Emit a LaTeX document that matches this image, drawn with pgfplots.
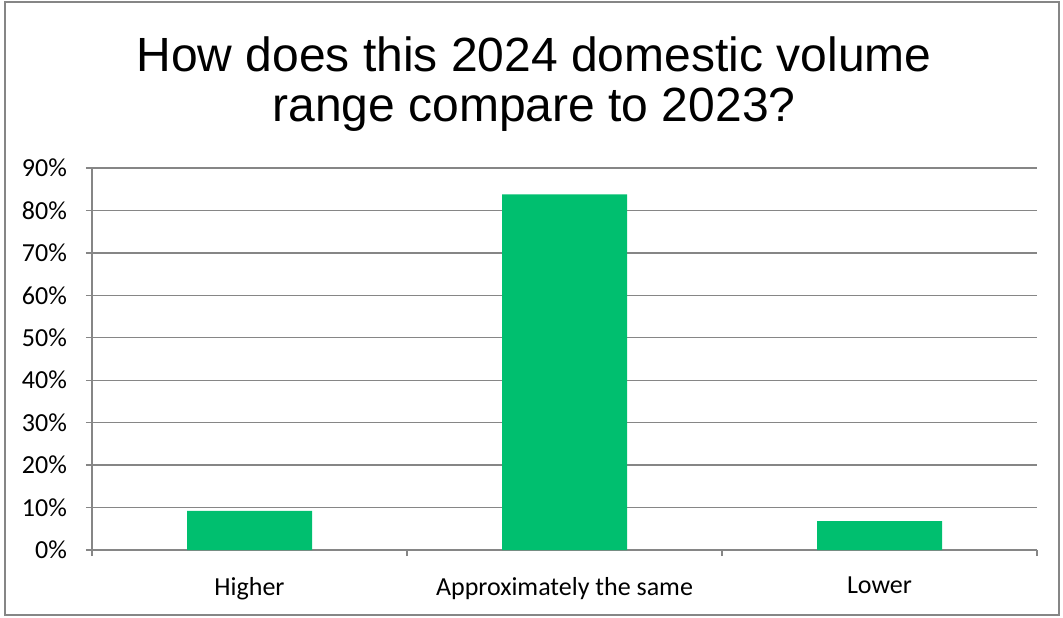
\documentclass[border=0pt]{standalone}
\usepackage{pgfplots}
\pgfplotsset{compat=1.18}
\usepackage{fontspec}
\setmainfont{Carlito}
\newfontfamily\titlefont{Liberation Sans}
\definecolor{bargreen}{RGB}{0,191,111}
\definecolor{axgray}{RGB}{134,134,134}
\begin{document}
\begin{tikzpicture}
\useasboundingbox (0,0) rectangle (531.5pt,308.5pt);
\draw[color=axgray, line width=0.6pt] (2.5pt,1pt) rectangle (529.5pt,307.5pt);
\node[align=center, font=\titlefont\fontsize{24}{25}\selectfont] at (267pt,266.5pt) {How does this 2024 domestic volume\\range compare to 2023?};
\begin{axis}[
  at={(46pt,33.5pt)}, anchor=south west,
  scale only axis,
  width=472.5pt, height=191pt,
  xmin=-0.5, xmax=2.5, ymin=0, ymax=90,
  axis x line*=bottom, axis y line*=left,
  axis line style={-, color=axgray, line width=0.65pt},
  ytick={0,10,...,90},
  yticklabel={\pgfmathprintnumber{\tick}\%},
  /pgf/number format/assume math mode=true,
  ymajorgrids, grid style={color=axgray, line width=0.65pt},
  xtick={-0.5,0.5,1.5,2.5},
  x tick label as interval=true,
  xticklabels={Higher,Approximately the same,Lower},
  tick align=outside, major tick length=3pt,
  tick style={color=axgray, line width=0.65pt},
  ticklabel style={font=\fontsize{13}{15}\selectfont},
  yticklabel style={xshift=-6pt},
  xticklabel style={yshift=-7pt},
  ybar, bar width=62.5pt,
]
\addplot[fill=bargreen, draw=none] coordinates {(0,9.2) (1,83.8) (2,6.8)};
\end{axis}
\end{tikzpicture}
\end{document}
